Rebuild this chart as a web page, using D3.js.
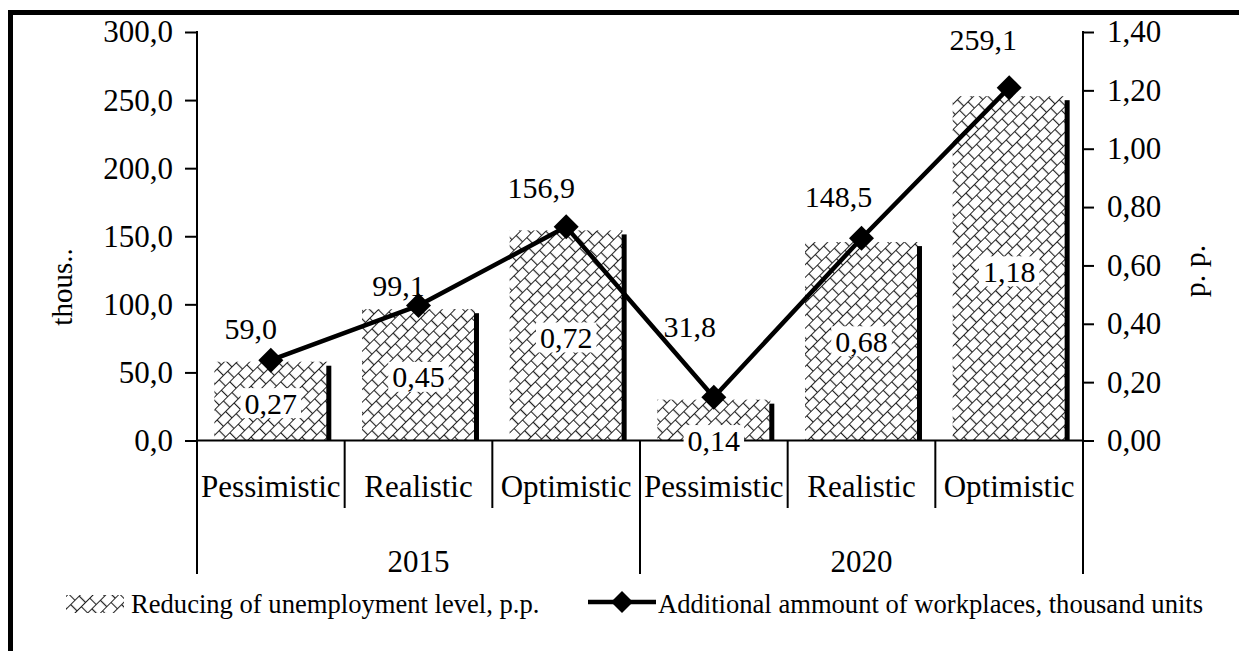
<!DOCTYPE html>
<html>
<head>
<meta charset="utf-8">
<script src="https://cdn.jsdelivr.net/npm/d3@7"></script>
<style>
  html, body { margin: 0; padding: 0; background: #fff; }
  svg { display: block; }
  text { font-family: "Liberation Serif", "Times New Roman", serif; fill: #000; }
</style>
</head>
<body>
<svg id="chart" width="1239" height="651"></svg>
<script>
// ---------- data ----------
const categories = ["Pessimistic", "Realistic", "Optimistic", "Pessimistic", "Realistic", "Optimistic"];
const years = ["2015", "2020"];
const unemploymentReduction = [0.27, 0.45, 0.72, 0.14, 0.68, 1.18];   // p.p. (bars, right axis)
const workplaces = [59.0, 99.1, 156.9, 31.8, 148.5, 259.1];          // thousand units (line, left axis)
const leftTicks = [0, 50, 100, 150, 200, 250, 300];
const rightTicks = [0, 0.2, 0.4, 0.6, 0.8, 1.0, 1.2, 1.4];
const seriesNames = ["Reducing of unemployment level, p.p.", "Additional ammount of workplaces, thousand units"];
const leftTitle = "thous..";
const rightTitle = "p. p.";

// label placement tweaks (layout only)
const lineLabelDx = [-20, -20, -25, -24, -23, -26];
const lineLabelDy = [-32, -20, -39, -71, -42, -48];
const barLabelDy = [2, 2, 2, 20, 0, 3];

// ---------- layout ----------
const svg = d3.select("#chart");
const X0 = 197, X1 = 1083, YT = 32, YB = 440.5;
const FONT = 31;

const x = d3.scaleBand().domain(d3.range(categories.length)).range([X0, X1]).padding(0);
const yL = d3.scaleLinear().domain([0, 300]).range([YB, YT]);
const yR = d3.scaleLinear().domain([0, 1.4]).range([YB, YT]);
const comma = (f) => (v) => d3.format(f)(v).replace(".", ",");

// pattern: diagonal brick
const defs = svg.append("defs");
const pat = defs.append("pattern")
  .attr("id", "brick").attr("patternUnits", "userSpaceOnUse")
  .attr("width", 12).attr("height", 18)
  .attr("patternTransform", "rotate(-45)");
pat.append("rect").attr("width", 12).attr("height", 18).attr("fill", "#fff");
pat.append("path").attr("d", "M0,0.5H12M0,9.5H12M0.5,0V9.5M6.5,9.5V18")
  .attr("stroke", "#222").attr("stroke-width", 1.2).attr("fill", "none");

// outer frame (cut off at right/bottom)
svg.append("rect").attr("x", 10.5).attr("y", 12.5).attr("width", 1400).attr("height", 800)
  .attr("fill", "none").attr("stroke", "#000").attr("stroke-width", 5);

// ---------- bars ----------
const bw = x.bandwidth() * 0.765;
const bars = svg.append("g");
unemploymentReduction.forEach((v, i) => {
  const cx = x(i) + x.bandwidth() / 2;
  const top = yR(v);
  bars.append("rect").attr("x", cx - bw / 2).attr("y", top).attr("width", bw).attr("height", YB - top)
    .attr("fill", "url(#brick)");
  bars.append("rect").attr("x", cx + bw / 2 - 1).attr("y", top + 4).attr("width", 5).attr("height", YB - top - 4)
    .attr("fill", "#000");
});

// baseline
svg.append("line").attr("x1", X0).attr("x2", X1).attr("y1", YB).attr("y2", YB)
  .attr("stroke", "#000").attr("stroke-width", 2);

// ---------- axes ----------
const gl = svg.append("g").attr("transform", `translate(${X0},0)`)
  .call(d3.axisLeft(yL).tickValues(leftTicks).tickSize(12).tickPadding(12).tickFormat(comma(".1f")));
gl.select(".domain").remove();
gl.selectAll(".tick line").attr("stroke", "#000").attr("stroke-width", 2);
gl.selectAll(".tick text").style("font-size", FONT + "px").style("font-family", "Liberation Serif");

const gr = svg.append("g").attr("transform", `translate(${X1},0)`)
  .call(d3.axisRight(yR).tickValues(rightTicks).tickSize(11).tickPadding(13).tickFormat(comma(".2f")));
gr.select(".domain").remove();
gr.selectAll(".tick line").attr("stroke", "#000").attr("stroke-width", 2);
gr.selectAll(".tick text").style("font-size", FONT + "px").style("font-family", "Liberation Serif");

const YEND = 574;
[X0, X1].forEach(xx => svg.append("line").attr("x1", xx).attr("x2", xx).attr("y1", YT - 1).attr("y2", YEND)
  .attr("stroke", "#000").attr("stroke-width", 2));

// category boundary ticks
d3.range(1, categories.length).forEach(k => {
  const bx = x(k);
  const long = k === categories.length / 2;
  svg.append("line").attr("x1", bx).attr("x2", bx).attr("y1", YB).attr("y2", long ? YEND : 508)
    .attr("stroke", "#000").attr("stroke-width", 2);
});

// category labels
svg.append("g").selectAll("text").data(categories).join("text")
  .attr("x", (d, i) => x(i) + x.bandwidth() / 2).attr("y", 497)
  .attr("text-anchor", "middle").style("font-size", FONT + "px").text(d => d);

// year labels
const per = categories.length / years.length;
svg.append("g").selectAll("text").data(years).join("text")
  .attr("x", (d, j) => (x(j * per) + x((j + 1) * per - 1) + x.bandwidth()) / 2).attr("y", 572)
  .attr("text-anchor", "middle").style("font-size", FONT + "px").text(d => d);

// axis titles
svg.append("text").attr("transform", "translate(72,287) rotate(-90)").attr("text-anchor", "middle")
  .style("font-size", "29px").text(leftTitle);
svg.append("text").attr("transform", "translate(1205,271) rotate(-90)").attr("text-anchor", "middle")
  .style("font-size", "30px").text(rightTitle);

// ---------- bar labels ----------
const bl = svg.append("g");
unemploymentReduction.forEach((v, i) => {
  const cx = x(i) + x.bandwidth() / 2;
  const cy = (yR(v) + YB) / 2 + barLabelDy[i];
  const t = bl.append("text").attr("x", cx).attr("y", cy).attr("dy", "0.35em")
    .attr("text-anchor", "middle").style("font-size", "30px").text(comma(".2f")(v));
  const bb = t.node().getBBox();
  bl.insert("rect", "text").attr("x", bb.x - 4).attr("y", cy - 15).attr("width", bb.width + 8).attr("height", 30)
    .attr("fill", "#fff");
});

// ---------- line ----------
const pts = workplaces.map((v, i) => [x(i) + x.bandwidth() / 2, yL(v)]);
svg.append("path").attr("d", d3.line()(pts)).attr("fill", "none").attr("stroke", "#000")
  .attr("stroke-width", 4.5).attr("stroke-linejoin", "round");
const diamond = (r) => `M0,${-r}L${r},0L0,${r}L${-r},0Z`;
svg.append("g").selectAll("path").data(pts).join("path")
  .attr("transform", d => `translate(${d[0]},${d[1]})`).attr("d", diamond(12.5)).attr("fill", "#000");

svg.append("g").selectAll("text").data(workplaces).join("text")
  .attr("x", (d, i) => pts[i][0] + lineLabelDx[i]).attr("y", (d, i) => pts[i][1] + lineLabelDy[i])
  .attr("dy", "0.35em").attr("text-anchor", "middle").style("font-size", "30px")
  .text(d => comma(".1f")(d));

// ---------- legend ----------
const LY = 604;
svg.append("rect").attr("x", 66).attr("y", 595).attr("width", 58).attr("height", 18).attr("fill", "url(#brick)");
svg.append("text").attr("x", 131).attr("y", LY).attr("dy", "0.35em").style("font-size", "26.6px").text(seriesNames[0]);
svg.append("line").attr("x1", 588).attr("x2", 656).attr("y1", LY - 2).attr("y2", LY - 2)
  .attr("stroke", "#000").attr("stroke-width", 4.5);
svg.append("path").attr("transform", `translate(622,${LY - 2})`).attr("d", diamond(11)).attr("fill", "#000");
svg.append("text").attr("x", 658).attr("y", LY).attr("dy", "0.35em").style("font-size", "26.6px").text(seriesNames[1]);
</script>
</body>
</html>
